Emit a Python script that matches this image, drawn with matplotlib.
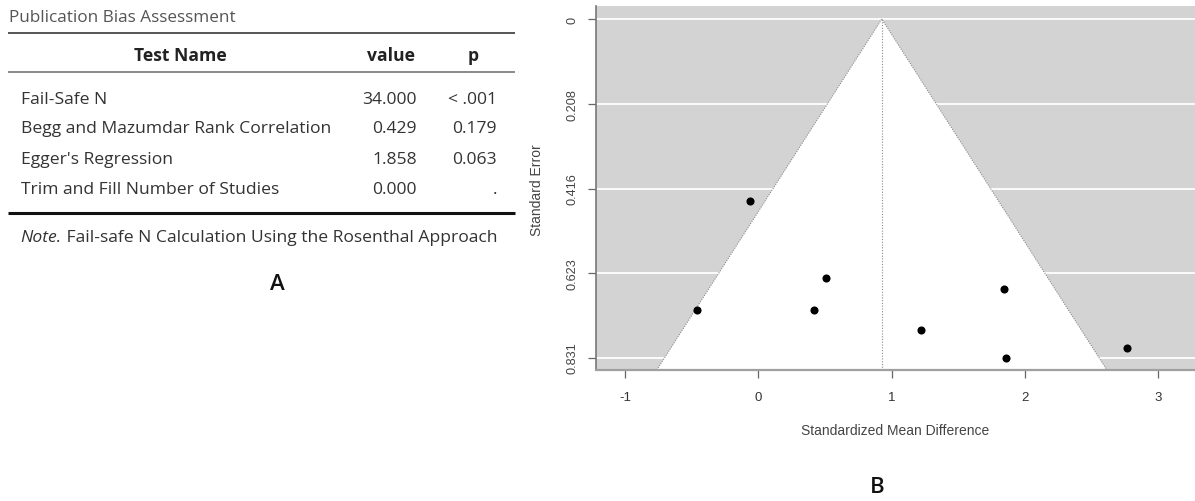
import matplotlib
matplotlib.use("Agg")
import matplotlib.pyplot as plt
import numpy as np

# ---------------- data ----------------
test_names = ["Fail-Safe N", "Begg and Mazumdar Rank Correlation",
              "Egger's Regression", "Trim and Fill Number of Studies"]
test_values = ["34.000", "0.429", "1.858", "0.000"]
test_p = ["< .001", "0.179", "0.063", "."]

smd = [-0.060, 0.504, 1.841, -0.461, 0.416, 1.218, 2.762, 1.857]
se = [0.447, 0.636, 0.663, 0.715, 0.714, 0.763, 0.807, 0.831]
pooled_smd = 0.926
se_ticks = [0, 0.208, 0.416, 0.623, 0.831]
se_tick_labels = ["0", "0.208", "0.416", "0.623", "0.831"]
smd_ticks = [-1, 0, 1, 2, 3]

W, H = 1195, 502
fig = plt.figure(figsize=(W / 100, H / 100), dpi=100)

# ---------------- panel A: table ----------------
tab = fig.add_axes([0, 0, 1, 1])
tab.set_xlim(0, W)
tab.set_ylim(H, 0)
tab.axis("off")

tfont = "Open Sans"
fs = 12.6
tab.text(9, 17.5, "Publication Bias Assessment", family=tfont, fontsize=12.3,
         color="#555555", ha="left", va="center")
tab.plot([8, 515], [34.3, 34.3], color="#555555", lw=1.4, solid_capstyle="butt")
tab.text(180, 56, "Test Name", family=tfont, fontsize=fs, weight="bold",
         color="#222222", ha="center", va="center")
tab.text(391.5, 56, "value", family=tfont, fontsize=fs, weight="bold",
         color="#222222", ha="center", va="center")
tab.text(473, 56, "p", family=tfont, fontsize=fs, weight="bold",
         color="#222222", ha="center", va="center")
tab.plot([8, 515], [72.7, 72.7], color="#777777", lw=1.2, solid_capstyle="butt")

row_y = [99.5, 129.5, 160, 190]
for name, val, p, y in zip(test_names, test_values, test_p, row_y):
    tab.text(21.5, y, name, family=tfont, fontsize=fs, color="#333333",
             ha="left", va="center")
    tab.text(417, y, val, family=tfont, fontsize=fs, color="#333333",
             ha="right", va="center")
    tab.text(497, y, p, family=tfont, fontsize=fs, color="#333333",
             ha="right", va="center")
tab.plot([8, 515], [214.3, 214.3], color="#111111", lw=2.2, solid_capstyle="butt")

note1 = tab.text(20.5, 238.5, "Note.", family=tfont, fontsize=fs, style="italic",
                 color="#333333", ha="left", va="center")
fig.canvas.draw()
r = fig.canvas.get_renderer()
bb = note1.get_window_extent(r)
x_after = bb.x1  # display px == data px in x (same origin)
tab.text(x_after, 238.5, " Fail-safe N Calculation Using the Rosenthal Approach",
         family=tfont, fontsize=fs, color="#333333", ha="left", va="center")
tab.text(277, 285, "A", family=tfont, fontsize=16, weight="semibold",
         color="#111111", ha="center", va="center")
tab.text(877, 488, "B", family=tfont, fontsize=16, weight="semibold",
         color="#111111", ha="center", va="center")

# ---------------- panel B: funnel plot ----------------
left_px, right_px, top_px, bot_px = 596, 1195, 6.7, 371
ax = fig.add_axes([left_px / W, 1 - bot_px / H, (right_px - left_px) / W,
                   (bot_px - top_px) / H])
ax.set_facecolor("#d3d3d3")
ymax = 0.8615
ax.set_xlim(-1.2176, 3.275)
ax.set_ylim(ymax, -0.0327)

for t in se_ticks:
    ax.axhline(t, color="white", lw=1.3, zorder=0.5)

fx = [pooled_smd - 1.96 * ymax, pooled_smd, pooled_smd + 1.96 * ymax]
fy = [ymax, 0, ymax]
ax.fill(fx, fy, color="white", zorder=1, lw=0)
ax.plot(fx, fy, color="#8a8a8a", lw=0.8, ls=(0, (1, 1.2)), zorder=1.5)
ax.plot([pooled_smd, pooled_smd], [0, ymax], color="#8a8a8a", lw=0.8,
        ls=(0, (1, 1.5)), zorder=1.5)
ax.scatter(smd, se, s=34, color="black", zorder=3, lw=0)

for s in ["top", "right"]:
    ax.spines[s].set_visible(False)
ax.spines["left"].set_color("#777777")
ax.spines["bottom"].set_color("#a0a0a0")
ax.spines["left"].set_linewidth(1.2)
ax.spines["bottom"].set_linewidth(1.6)

pfont = "Liberation Sans"
ax.set_yticks(se_ticks)
ax.set_yticklabels(se_tick_labels, rotation=90, va="center", family=pfont,
                   fontsize=9.2, color="#444444")
ax.set_xticks(smd_ticks)
ax.set_xticklabels([str(v) for v in smd_ticks], family=pfont, fontsize=9.5,
                   color="#333333")
ax.tick_params(axis="both", length=6, width=0.9, color="#666666")
ax.tick_params(axis="x", pad=9.3)
ax.tick_params(axis="y", pad=6.5)

ax.set_xlabel("Standardized Mean Difference", family=pfont, fontsize=10,
              color="#444444")
ax.xaxis.set_label_coords(0.499, -0.146)
ax.set_ylabel("Standard Error", family=pfont, fontsize=10, color="#444444")
ax.yaxis.set_label_coords(-0.087, 0.497)

fig.savefig("out.png", dpi=100)
